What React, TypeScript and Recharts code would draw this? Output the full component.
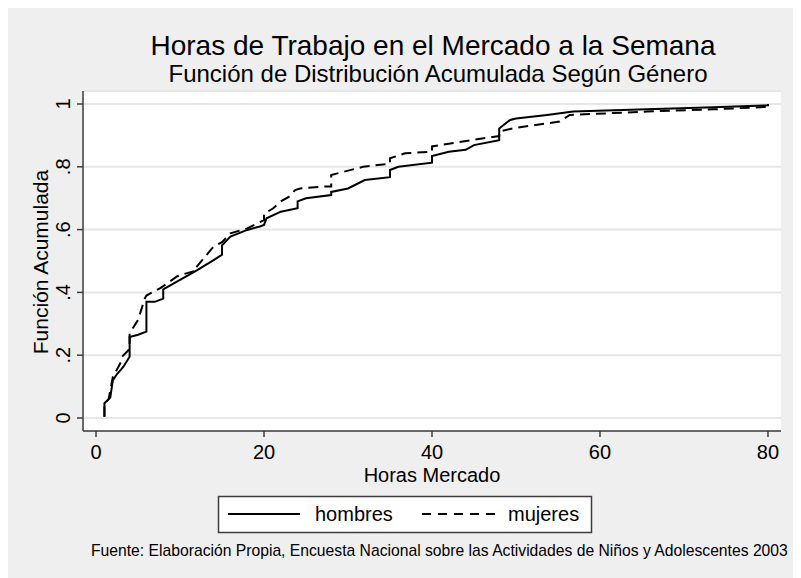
import { LineChart, Line, XAxis, YAxis, CartesianGrid } from "recharts";

// Stata-style cumul plot, hours worked in the market per week
const hombresHoras = [
  1, 1, 1.7, 2, 2.5, 3, 3.3, 4, 4, 5,
  6, 6, 7, 8, 8, 10, 12, 14, 15, 15,
  16, 18, 19.5, 20, 20.3, 22, 24, 24, 25, 28,
  28, 30, 32, 35, 35, 36, 40, 40, 42, 44,
  45, 48, 48, 49.3, 50, 53.7, 56.8, 65.6, 73.5, 80, 80,
];
const hombresAcum = [
  0.003, 0.047, 0.065, 0.12, 0.14, 0.155, 0.165, 0.195, 0.258, 0.265,
  0.275, 0.37, 0.37, 0.38, 0.41, 0.44, 0.47, 0.503, 0.52, 0.55,
  0.578, 0.599, 0.61, 0.615, 0.636, 0.657, 0.668, 0.69, 0.7, 0.71,
  0.72, 0.731, 0.758, 0.767, 0.79, 0.8, 0.813, 0.834, 0.848, 0.854,
  0.869, 0.885, 0.922, 0.949, 0.954, 0.965, 0.976, 0.983, 0.99, 0.996, 1.0,
];

const mujeresHoras = [
  1, 1, 1.5, 2, 3, 3.1, 4, 4, 5, 5.8,
  6, 7.6, 8, 9.6, 10, 12, 12, 14, 15, 16,
  18, 20, 20, 21.1, 22, 23, 23.7, 24.3, 27, 28,
  28, 31.8, 35, 35, 36.8, 40, 40, 44.7, 48, 48,
  49.7, 55.2, 56.4, 65.6, 73.5, 80,
];
const mujeresAcum = [
  0.005, 0.045, 0.06, 0.13, 0.18, 0.195, 0.22, 0.27, 0.312, 0.38,
  0.39, 0.413, 0.42, 0.45, 0.455, 0.47, 0.482, 0.546, 0.56, 0.588,
  0.604, 0.63, 0.65, 0.668, 0.69, 0.705, 0.726, 0.731, 0.737, 0.737,
  0.774, 0.8, 0.81, 0.827, 0.843, 0.848, 0.865, 0.885, 0.898, 0.912,
  0.923, 0.944, 0.965, 0.976, 0.983, 0.991,
];

const xTicks = [0, 20, 40, 60, 80];
const yTicks = [0, 0.2, 0.4, 0.6, 0.8, 1];
const yTickLabels = ["0", ".2", ".4", ".6", ".8", "1"];

const FONT = '"Liberation Sans", Arial, Helvetica, sans-serif';
const AXIS = "#3c3c3c";

const hombres = hombresHoras.map((x, i) => ({ x, y: hombresAcum[i] }));
const mujeres = mujeresHoras.map((x, i) => ({ x, y: mujeresAcum[i] }));

const YTick = (props: any) => {
  const { x, y, payload } = props;
  const idx = yTicks.findIndex((t) => Math.abs(t - payload.value) < 1e-6);
  return (
    <text
      x={x}
      y={y}
      transform={`rotate(-90 ${x} ${y})`}
      textAnchor="middle"
      fontSize={20}
      fontFamily={FONT}
      fill="#000"
    >
      {idx >= 0 ? yTickLabels[idx] : payload.value}
    </text>
  );
};

export default function App() {
  return (
    <div
      style={{
        position: "relative",
        width: 793,
        height: 572,
        marginTop: -2,
        background: "#efefef",
        fontFamily: FONT,
      }}
    >
      <LineChart
        width={793}
        height={572}
        margin={{ top: 85, right: 20, bottom: 107, left: 35 }}
      >
        <CartesianGrid
          vertical={false}
          stroke="#e6e6e6"
          strokeWidth={2}
          fill="#ffffff"
          fillOpacity={1}
        />
        <XAxis
          type="number"
          dataKey="x"
          domain={[-1.55, 81.55]}
          ticks={xTicks}
          allowDataOverflow
          height={40}
          tickSize={6}
          tickMargin={8}
          axisLine={{ stroke: AXIS, strokeWidth: 1.5 }}
          tickLine={{ stroke: AXIS, strokeWidth: 1.5 }}
          tick={{ fontSize: 20, fill: "#000", fontFamily: FONT }}
        />
        <YAxis
          type="number"
          domain={[-0.0414, 1.0414]}
          ticks={yTicks}
          allowDataOverflow
          width={40}
          tickSize={6}
          tickMargin={7}
          axisLine={{ stroke: AXIS, strokeWidth: 1.5 }}
          tickLine={{ stroke: AXIS, strokeWidth: 1.5 }}
          tick={<YTick />}
        />
        <Line
          data={hombres}
          dataKey="y"
          type="linear"
          stroke="#000"
          strokeWidth={2}
          dot={false}
          isAnimationActive={false}
        />
        <Line
          data={mujeres}
          dataKey="y"
          type="linear"
          stroke="#000"
          strokeWidth={2}
          strokeDasharray="10 6"
          dot={false}
          isAnimationActive={false}
        />
      </LineChart>

      <svg
        width={793}
        height={572}
        style={{ position: "absolute", left: 0, top: 0, pointerEvents: "none" }}
        fontFamily={FONT}
      >
        <text x={425} y={49} textAnchor="middle" fontSize={28} fill="#000">
          Horas de Trabajo en el Mercado a la Semana
        </text>
        <text x={430} y={76} textAnchor="middle" fontSize={24} fill="#000">
          Función de Distribución Acumulada Según Género
        </text>
        <text
          transform="translate(40 256) rotate(-90)"
          textAnchor="middle"
          fontSize={21}
          fill="#000"
        >
          Función Acumulada
        </text>
        <text x={424} y={476} textAnchor="middle" fontSize={20} fill="#000">
          Horas Mercado
        </text>

        <rect x={210.5} y={490.5} width={373} height={36} fill="#fff" stroke={AXIS} strokeWidth={1.5} />
        <line x1={220} y1={508} x2={292} y2={508} stroke="#000" strokeWidth={2} />
        <text x={307} y={515} fontSize={20} fill="#000">hombres</text>
        <line x1={414} y1={508} x2={488} y2={508} stroke="#000" strokeWidth={2} strokeDasharray="9 7" />
        <text x={500} y={515} fontSize={20} fill="#000">mujeres</text>

        <text x={83} y={550} fontSize={15.7} fill="#000">
          Fuente: Elaboración Propia, Encuesta Nacional sobre las Actividades de Niños y Adolescentes 2003
        </text>
      </svg>
    </div>
  );
}
